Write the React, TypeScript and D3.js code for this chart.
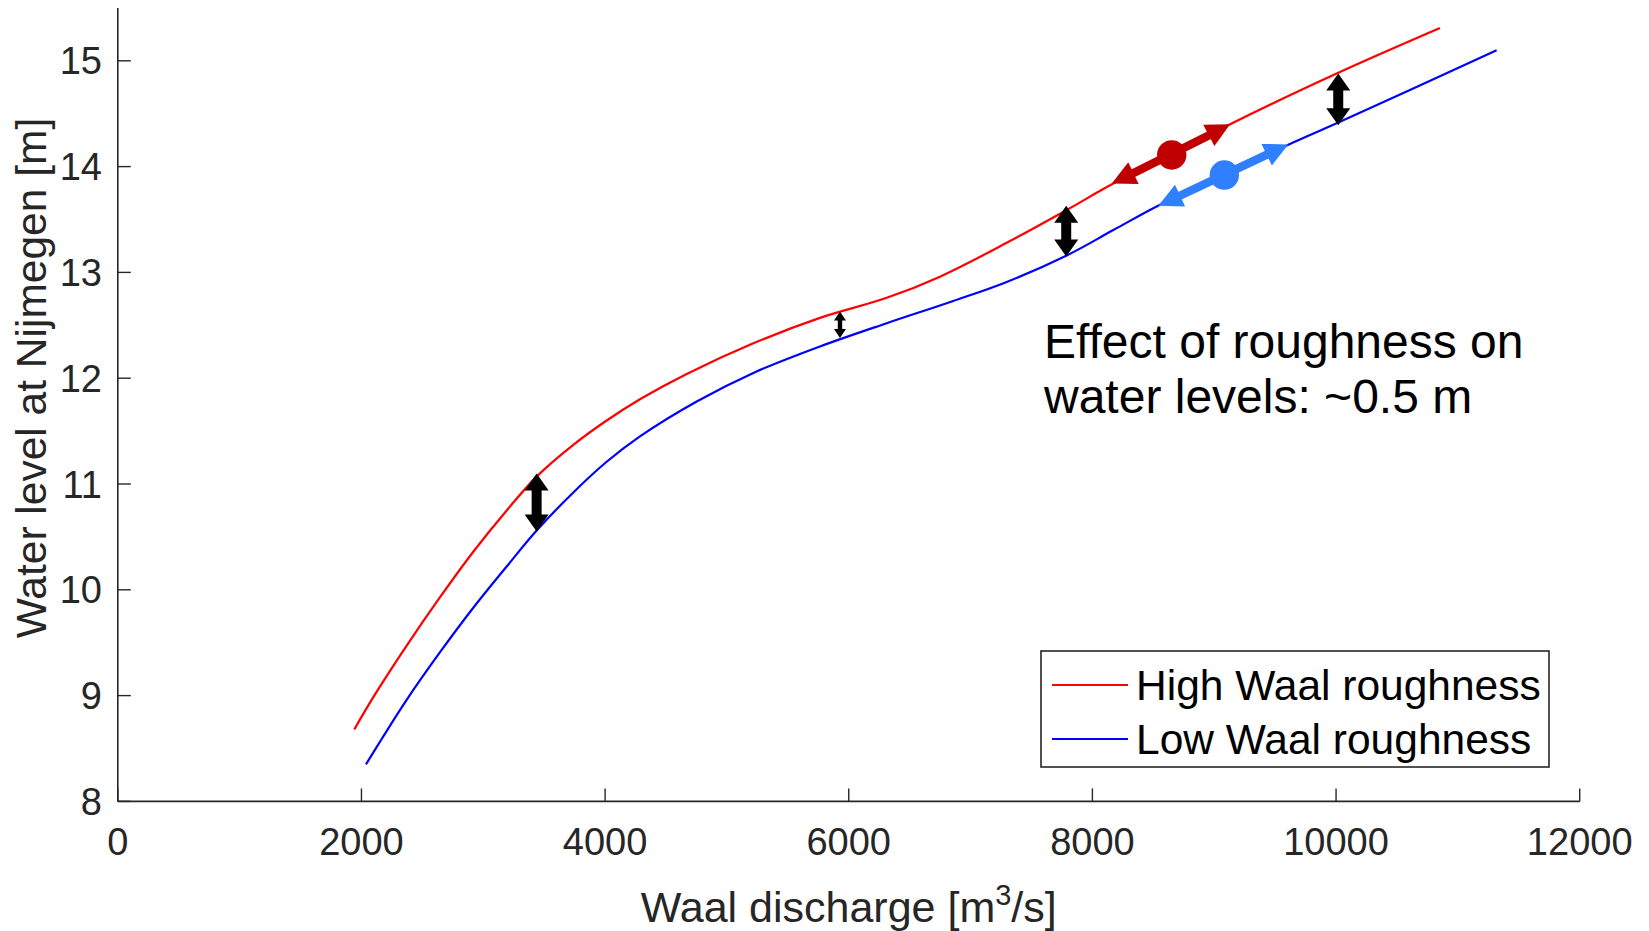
import React from "react";
import * as d3 from "d3";

const W = 1649;
const H = 931;

const xTicks = [0, 2000, 4000, 6000, 8000, 10000, 12000];
const yTicks = [8, 9, 10, 11, 12, 13, 14, 15];

const highX = [1941, 2100, 2370, 2645, 2918, 3192, 3438, 3739, 4013, 4300, 4670, 5217, 5764, 6312, 6749, 7297, 7789, 8172, 8651, 9130, 10005, 10853];
const highY = [8.68, 8.99, 9.47, 9.93, 10.36, 10.75, 11.07, 11.37, 11.6, 11.81, 12.04, 12.33, 12.57, 12.76, 12.96, 13.28, 13.59, 13.84, 14.11, 14.4, 14.88, 15.31];

const lowX = [2037, 2166, 2371, 2645, 2918, 3192, 3438, 3739, 4013, 4286, 4752, 5217, 5764, 6312, 6858, 7297, 7789, 8172, 8555, 9083, 9595, 10005, 11318];
const lowY = [8.35, 8.59, 8.96, 9.41, 9.83, 10.22, 10.56, 10.92, 11.21, 11.45, 11.78, 12.05, 12.3, 12.52, 12.73, 12.91, 13.16, 13.4, 13.64, 13.92, 14.2, 14.41, 15.1];

const seriesNames = ["High Waal roughness", "Low Waal roughness"];
const seriesColors = ["#ff0000", "#0000ff"];

// black double arrows: x, y top, y bottom, size
const gapX = [3438, 5928, 7785, 10018];
const gapTop = [11.1, 12.63, 13.63, 14.88];
const gapBottom = [10.55, 12.38, 13.15, 14.39];
const gapBig = [true, false, true, true];

// coloured direction arrows: dot, tip1, tip2
const dirDotX = [8651, 9083];
const dirDotY = [14.11, 13.92];
const dirTipAX = [8159, 8541];
const dirTipAY = [13.84, 13.63];
const dirTipBX = [9130, 9608];
const dirTipBY = [14.4, 14.21];
const dirColors = ["#c00000", "#2f7fff"];

const annotationLines = ["Effect of roughness on", "water levels: ~0.5 m"];

const FONT = "'Liberation Sans', Arial, Helvetica, sans-serif";
const AXC = "#262626";

function arrowHead(tx: number, ty: number, fx: number, fy: number, len: number, wid: number) {
  const dx = tx - fx, dy = ty - fy;
  const d = Math.hypot(dx, dy) || 1;
  const ux = dx / d, uy = dy / d;
  const bx = tx - ux * len, by = ty - uy * len;
  const px = -uy, py = ux;
  return `${tx},${ty} ${bx + px * wid / 2},${by + py * wid / 2} ${bx - px * wid / 2},${by - py * wid / 2}`;
}

export default function App() {
  const left = 117.8, right = 1579.7, top = 7.9, bottom = 801.4;
  const x = d3.scaleLinear().domain([0, 12000]).range([left, right]);
  const y = d3.scaleLinear().domain([8, 15.5]).range([bottom, top]);
  const line = d3.line<[number, number]>().x(d => x(d[0])).y(d => y(d[1])).curve(d3.curveCatmullRom.alpha(0.5));
  const high: [number, number][] = highX.map((v, i) => [v, highY[i]]);
  const low: [number, number][] = lowX.map((v, i) => [v, lowY[i]]);
  const tickLen = 13;

  return (
    <div style={{ position: "absolute", left: 0, top: 0 }}>
      <svg width={W} height={H} style={{ display: "block", background: "#fff" }} fontFamily={FONT}>
        <rect width={W} height={H} fill="#fff" />
        {/* curves */}
        <path d={line(high) || ""} fill="none" stroke={seriesColors[0]} strokeWidth={2.2} />
        <path d={line(low) || ""} fill="none" stroke={seriesColors[1]} strokeWidth={2.2} />

        {/* black gap arrows */}
        {gapX.map((gx, i) => {
          const cx = x(gx);
          const y1 = y(gapTop[i]);
          const y2 = y(gapBottom[i]);
          const hw = gapBig[i] ? 12 : 6;
          const hl = gapBig[i] ? 17 : 9;
          const sw = gapBig[i] ? 5 : 2.2;
          const pts = [
            [cx, y1], [cx + hw, y1 + hl], [cx + sw, y1 + hl], [cx + sw, y2 - hl], [cx + hw, y2 - hl],
            [cx, y2], [cx - hw, y2 - hl], [cx - sw, y2 - hl], [cx - sw, y1 + hl], [cx - hw, y1 + hl],
          ].map(p => p.join(",")).join(" ");
          return <polygon key={i} points={pts} fill="#000" />;
        })}

        {/* coloured direction arrows */}
        {dirDotX.map((dx, i) => {
          const cx = x(dx), cy = y(dirDotY[i]);
          const ax = x(dirTipAX[i]), ay = y(dirTipAY[i]);
          const bx = x(dirTipBX[i]), by = y(dirTipBY[i]);
          const c = dirColors[i];
          const hl = 24;
          const shorten = (tx: number, ty: number) => {
            const ddx = tx - cx, ddy = ty - cy;
            const d = Math.hypot(ddx, ddy);
            return [cx + ddx * (d - hl + 2) / d, cy + ddy * (d - hl + 2) / d];
          };
          const a2 = shorten(ax, ay);
          const b2 = shorten(bx, by);
          return (
            <g key={i}>
              <line x1={a2[0]} y1={a2[1]} x2={b2[0]} y2={b2[1]} stroke={c} strokeWidth={8.5} />
              <polygon points={arrowHead(ax, ay, cx, cy, hl, 24)} fill={c} />
              <polygon points={arrowHead(bx, by, cx, cy, hl, 24)} fill={c} />
              <circle cx={cx} cy={cy} r={14.7} fill={c} />
            </g>
          );
        })}

        {/* axes */}
        <line x1={left} y1={bottom} x2={right} y2={bottom} stroke={AXC} strokeWidth={1.6} />
        <line x1={left} y1={bottom} x2={left} y2={top} stroke={AXC} strokeWidth={1.6} />
        {xTicks.map(t => (
          <g key={"x" + t}>
            <line x1={x(t)} x2={x(t)} y1={bottom} y2={bottom - tickLen} stroke={AXC} strokeWidth={1.4} />
            <text x={x(t)} y={855} textAnchor="middle" fontSize={38} fill={AXC}>{t}</text>
          </g>
        ))}
        {yTicks.map(t => (
          <g key={"y" + t}>
            <line x1={left} x2={left + tickLen} y1={y(t)} y2={y(t)} stroke={AXC} strokeWidth={1.4} />
            <text x={102} y={y(t) + 13.5} textAnchor="end" fontSize={38} fill={AXC}>{t}</text>
          </g>
        ))}
        <text x={(left + right) / 2} y={922} textAnchor="middle" fontSize={43} fill={AXC}>
          Waal discharge [m<tspan dy={-17} fontSize={29}>3</tspan><tspan dy={17}>/s]</tspan>
        </text>
        <text transform={`translate(46,378) rotate(-90)`} textAnchor="middle" fontSize={42.5} fill={AXC}>
          Water level at Nijmegen [m]
        </text>

        {/* annotation */}
        {annotationLines.map((s, i) => (
          <text key={i} x={1044} y={357.6 + i * 55} fontSize={48} fill="#000">{s}</text>
        ))}

        {/* legend */}
        <rect x={1041} y={651} width={508} height={116} fill="#fff" stroke={AXC} strokeWidth={1.6} />
        {seriesNames.map((n, i) => (
          <g key={n}>
            <line x1={1052} x2={1128} y1={685 + i * 54} y2={685 + i * 54} stroke={seriesColors[i]} strokeWidth={2} />
            <text x={1136} y={700 + i * 54} fontSize={42.5} fill="#000">{n}</text>
          </g>
        ))}
      </svg>
    </div>
  );
}
